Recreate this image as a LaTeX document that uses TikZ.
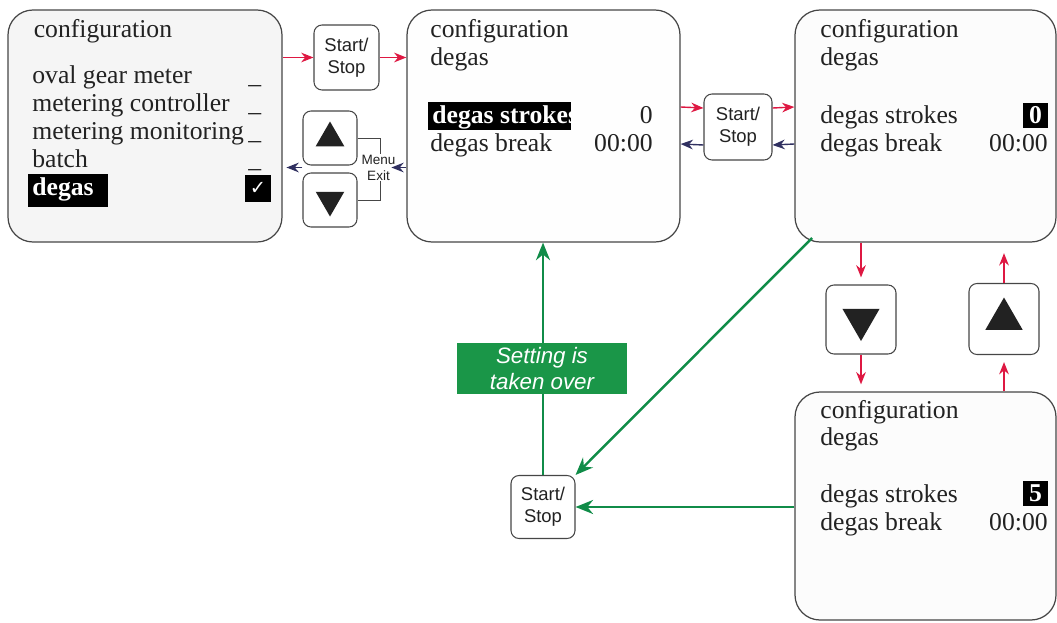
\documentclass[tikz,border=0pt]{standalone}
\usepackage{fontspec}
\setmainfont{Liberation Serif}
\setsansfont{Liberation Sans}
\newfontfamily\symfont{DejaVu Sans}
\usetikzlibrary{arrows.meta,shapes.geometric}
\definecolor{keyred}{RGB}{222,24,66}
\definecolor{backnavy}{RGB}{48,48,96}
\definecolor{okgreen}{RGB}{16,140,72}
\definecolor{lblgreen}{RGB}{26,150,72}
\definecolor{rim}{RGB}{70,70,70}
\definecolor{ink}{RGB}{34,34,34}
\begin{document}
\begin{tikzpicture}[
  screen/.style={draw=rim,line width=0.7pt,rounded corners=0.5cm,minimum width=5.46cm,minimum height=4.64cm,inner sep=0pt},
  keybox/.style={draw=rim,line width=0.6pt,fill=white,rounded corners=0.16cm,font=\sffamily\fontsize{10.5}{12.5}\selectfont,align=center,inner sep=0pt,text=ink},
  lcd/.style={anchor=base west,inner sep=0pt,text=ink,font=\fontsize{14.6}{17}\selectfont},
  lcdr/.style={anchor=base east,inner sep=0pt,text=ink,font=\fontsize{14.6}{17}\selectfont},
  tri/.style={regular polygon,regular polygon sides=3,fill=ink,inner sep=0pt},
  inv/.style={fill=black,text=white,font=\bfseries\fontsize{14.6}{17}\selectfont,inner sep=0pt},
  redarr/.style={-{Stealth[length=7pt,width=5.5pt]},keyred,line width=0.8pt},
  navyarr/.style={-{Stealth[length=7pt,width=5.5pt]},backnavy,line width=0.8pt},
  greenarr/.style={-{Stealth[length=10pt,width=8pt]},okgreen,line width=1.4pt}]
\useasboundingbox (0,0) rectangle (21.14,-12.44);
\clip (0,0) rectangle (21.14,-12.44);

% screens
\node[screen,fill=gray!8,minimum width=5.48cm] (box1) at (2.90,-2.52) {};
\node[screen,fill=gray!1] (box2) at (10.87,-2.52) {};
\node[screen,fill=gray!2,minimum width=5.22cm] (box3) at (18.51,-2.52) {};
\node[screen,fill=gray!2,minimum width=5.22cm,minimum height=4.56cm] (box4) at (18.51,-10.12) {};

% main menu
\node[lcd] (m0) at (0.67,-0.76) {configuration};
\node[lcd] (m1) at (0.64,-1.66) {oval gear meter};
\node[lcd] (m2) at (0.64,-2.22) {metering controller};
\node[lcd] (m3) at (0.64,-2.78) {metering monitoring};
\node[lcd] (m4) at (0.64,-3.34) {batch};
\fill (0.56,-3.48) rectangle (2.16,-4.14);
\node[lcd,text=white] (m5) at (0.64,-3.90) {\bfseries degas};
\node[lcd] (d1) at (4.96,-1.66) {\_};
\node[lcd] (d2) at (4.96,-2.22) {\_};
\node[lcd] (d3) at (4.96,-2.78) {\_};
\node[lcd] (d4) at (4.96,-3.34) {\_};
\node[fill=black,minimum width=0.52cm,minimum height=0.54cm,inner sep=0pt,text=white,font=\symfont\fontsize{11}{11}\selectfont] (tick) at (5.16,-3.77) {✓};

% degas screen
\node[lcd] (a0) at (8.60,-0.74) {configuration};
\node[lcd] (a1) at (8.60,-1.30) {degas};
\begin{scope}
\clip (8.56,-2.04) rectangle (11.42,-2.60);
\fill (8.56,-2.04) rectangle (11.42,-2.60);
\node[lcd,text=white] (a2) at (8.64,-2.46) {\bfseries degas strokes};
\end{scope}
\node[lcdr] (a2v) at (13.06,-2.46) {0};
\node[lcd] (a3) at (8.60,-3.02) {degas break};
\node[lcdr] (a3v) at (13.06,-3.02) {00:00};

% edit screen
\node[lcd] (b0) at (16.40,-0.74) {configuration};
\node[lcd] (b1) at (16.40,-1.30) {degas};
\node[lcd] (b2) at (16.40,-2.46) {degas strokes};
\node[inv,minimum width=0.50cm,minimum height=0.50cm] (b2v) at (20.71,-2.30) {0};
\node[lcd] (b3) at (16.40,-3.02) {degas break};
\node[lcdr] (b3v) at (20.96,-3.02) {00:00};

% changed screen
\node[lcd] (c0) at (16.40,-8.36) {configuration};
\node[lcd] (c1) at (16.40,-8.90) {degas};
\node[lcd] (c2) at (16.40,-10.04) {degas strokes};
\node[inv,minimum width=0.50cm,minimum height=0.50cm] (c2v) at (20.71,-9.87) {5};
\node[lcd] (c3) at (16.40,-10.60) {degas break};
\node[lcdr] (c3v) at (20.96,-10.60) {00:00};

% keys
\node[keybox,minimum width=1.30cm,minimum height=1.30cm] (startA) at (6.93,-1.15) {Start/\\Stop};
\node[keybox,minimum width=1.08cm,minimum height=1.08cm] (upA) at (6.60,-2.76) {};
\node[keybox,minimum width=1.08cm,minimum height=1.08cm] (downA) at (6.60,-4.00) {};
\node[tri,minimum size=0.66cm] (upAtri) at (upA) {};
\node[tri,shape border rotate=180,minimum size=0.66cm] (downAtri) at (downA) {};
\node[keybox,minimum width=1.36cm,minimum height=1.32cm] (startB) at (14.76,-2.54) {Start/\\Stop};
\node[keybox,minimum width=1.40cm,minimum height=1.38cm] (downB) at (17.22,-6.39) {};
\node[keybox,minimum width=1.40cm,minimum height=1.42cm] (upB) at (20.08,-6.38) {};
\node[tri,shape border rotate=180,minimum size=0.86cm] (downBtri) at (downB) {};
\node[tri,minimum size=0.86cm] (upBtri) at (upB) {};
\node[keybox,minimum width=1.28cm,minimum height=1.26cm] (startC) at (10.86,-10.14) {Start/\\Stop};

% menu/exit bracket
\draw[rim,line width=0.5pt] (upA.east) -- ++(0.46,0) |- (downA.east);
\node[font=\sffamily\fontsize{7.7}{9}\selectfont,align=center,fill=white,inner sep=0.5pt,text=ink] (menu) at (7.57,-3.35) {Menu\\Exit};

% connectors
\draw[redarr] (box1.east |- startA) -- (startA.west);
\draw[redarr] (startA.east) -- (box2.west |- startA);
\draw[navyarr] (box2.west |- menu) -- ++(-0.30,0);
\draw[navyarr] (upA.west |- menu) -- ++(-0.32,0);
\draw[redarr] ([yshift=0.38cm]box2.east) -- ([yshift=0.38cm]startB.west);
\draw[redarr] ([yshift=0.38cm]startB.east) -- ([yshift=0.38cm]box3.west);
\draw[navyarr] ([yshift=-0.36cm]box3.west) -- ([yshift=-0.36cm]startB.east);
\draw[navyarr] ([yshift=-0.36cm]startB.west) -- ([yshift=-0.36cm]box2.east);
\draw[redarr,shorten >=4pt] (box3.south -| downB) -- (downB.north);
\draw[redarr,shorten >=4pt] (downB.south) -- (downB |- box4.north);
\draw[redarr,shorten >=4pt] (box4.north -| upB) -- (upB.south);
\draw[redarr,shorten >=6pt] (upB.north) -- (upB |- box3.south);

% take-over path
\coordinate (diag) at (16.24,-4.76);
\draw[greenarr] (startC.north) -- (startC.north |- box2.south);
\draw[greenarr] (diag) -- (startC.north east);
\draw[greenarr] (box4.west |- startC) -- (startC.east);
\node[fill=lblgreen,text=white,font=\sffamily\itshape\fontsize{12.7}{14.7}\selectfont,align=center,minimum width=3.40cm,minimum height=1.02cm,inner sep=0pt] (taken) at (10.84,-7.37) {Setting is\\taken over};
\end{tikzpicture}
\end{document}
